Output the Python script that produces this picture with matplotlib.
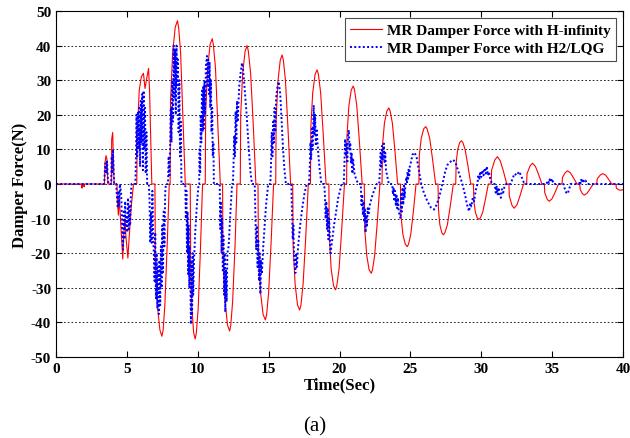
import matplotlib
matplotlib.use("Agg")
import matplotlib.pyplot as plt

plt.rcParams['font.family'] = ['Liberation Serif', 'DejaVu Serif']
plt.rcParams['axes.unicode_minus'] = False

# MR damper force with H-infinity control (time s, force N)
red_pts = [
    (0, 0), (1.8, 0), (1.83, -1.2), (1.86, 0), (1.95, 0), (1.98, -0.8), (2.01, 0),
    (3.42, 0), (3.45, 6), (3.53, 8.2), (3.6, 7), (3.66, 0), (3.9, 0), (3.93, 13),
    (4.0, 14.9), (4.05, 7), (4.1, 0), (4.3, 0), (4.33, -5), (4.4, -9), (4.45, -4),
    (4.52, -8), (4.6, -14), (4.71, -21.7), (4.78, -15), (4.86, -10), (4.93, -15),
    (5.07, -21.4), (5.17, -15), (5.32, -6), (5.47, 0), (5.7, 0), (5.73, 14),
    (5.87, 27), (6.02, 31), (6.17, 32), (6.28, 27.6), (6.42, 31), (6.53, 33.4),
    (6.6, 27), (6.68, 14), (6.76, 0),
    (6.98, 0), (7.01, -22), (7.15, -35), (7.33, -42.2), (7.47, -44), (7.56, -42.2), (7.68, -35), (7.84, -18), (7.99, 0),
    (8.05, 0), (8.08, 24), (8.23, 38), (8.41, 45.3), (8.57, 47.2), (8.65, 45.3), (8.79, 38), (8.95, 19.8), (9.12, 0),
    (9.47, 0), (9.5, -22), (9.59, -36), (9.71, -43), (9.82, -44.8), (9.9, -43), (10.03, -36), (10.19, -18.8), (10.34, 0),
    (10.53, 0), (10.56, 21), (10.7, 33.6), (10.87, 40.3), (11.02, 42), (11.1, 40.3), (11.25, 33.6), (11.41, 17.6), (11.59, 0),
    (11.75, 0), (11.78, -21), (11.93, -34), (12.1, -40.8), (12.25, -42.5), (12.33, -40.8), (12.46, -34), (12.63, -17.9), (12.77, 0),
    (13.0, 0), (13.03, 20), (13.17, 32), (13.34, 38.4), (13.48, 40), (13.57, 38.4), (13.73, 32), (13.92, 16.8), (14.1, 0),
    (14.25, 0), (14.28, -19.5), (14.43, -31.4), (14.61, -37.7), (14.77, -39.3), (14.86, -37.7), (15.0, -31.4), (15.18, -16.5), (15.35, 0),
    (15.5, 0), (15.53, 18.5), (15.66, 29.8), (15.82, 35.8), (15.95, 37.3), (16.04, 35.8), (16.19, 29.8), (16.37, 15.7), (16.55, 0),
    (16.7, 0), (16.73, -18), (16.87, -29), (17.04, -35), (17.19, -36.4), (17.28, -35), (17.43, -29), (17.62, -15.3), (17.8, 0),
    (17.95, 0), (17.98, 16.5), (18.11, 26.4), (18.28, 31.7), (18.42, 33), (18.51, 31.7), (18.67, 26.4), (18.86, 13.9), (19.05, 0),
    (19.25, 0), (19.28, -15), (19.41, -24.5), (19.58, -29.4), (19.72, -30.6), (19.81, -29.4), (19.97, -24.5), (20.16, -12.9), (20.35, 0),
    (20.5, 0), (20.53, 14), (20.66, 22.6), (20.83, 27.2), (20.97, 28.3), (21.06, 27.2), (21.22, 22.6), (21.41, 11.9), (21.6, 0),
    (21.75, 0), (21.78, -13), (21.92, -20.6), (22.09, -24.8), (22.24, -25.8), (22.33, -24.8), (22.48, -20.6), (22.67, -10.8), (22.85, 0),
    (23.0, 0), (23.03, 11), (23.17, 17.6), (23.34, 21.1), (23.48, 22), (23.57, 21.1), (23.73, 17.6), (23.92, 9.2), (24.1, 0),
    (24.3, 0), (24.33, -9), (24.47, -14.5), (24.64, -17.4), (24.78, -18.1), (24.87, -17.4), (25.03, -14.5), (25.22, -7.6), (25.4, 0),
    (25.6, 0), (25.63, 8.3), (25.77, 13.3), (25.94, 15.9), (26.08, 16.6), (26.18, 15.9), (26.36, 13.3), (26.57, 7), (26.78, 0),
    (26.95, 0), (26.98, -7.3), (27.08, -11.8), (27.22, -14.1), (27.33, -14.7), (27.43, -14.1), (27.61, -11.8), (27.82, -6.2), (28.03, 0),
    (28.2, 0), (28.23, 6.2), (28.34, 10), (28.48, 12), (28.6, 12.5), (28.7, 12), (28.86, 10), (29.06, 5.3), (29.26, 0),
    (29.45, 0), (29.48, -5.1), (29.59, -8.2), (29.72, -9.8), (29.84, -10.2), (29.94, -9.8), (30.1, -8.2), (30.3, -4.3), (30.5, 0),
    (30.7, 0), (30.73, 4), (30.96, 7), (31.14, 7.9), (31.34, 6.7), (31.57, 3.6), (31.8, 0),
    (31.95, 0), (31.98, -3.5), (32.17, -6.2), (32.32, -7), (32.52, -6), (32.75, -3.2), (32.98, 0),
    (33.2, 0), (33.23, 3), (33.45, 5.3), (33.62, 6), (33.82, 5.1), (34.05, 2.7), (34.28, 0),
    (34.45, 0), (34.48, -2.5), (34.65, -4.4), (34.79, -5), (34.99, -4.3), (35.22, -2.3), (35.45, 0),
    (35.7, 0), (35.73, 1.9), (35.93, 3.3), (36.09, 3.8), (36.29, 3.2), (36.52, 1.7), (36.75, 0),
    (36.95, 0), (36.98, -1.6), (37.14, -2.8), (37.27, -3.2), (37.46, -2.7), (37.68, -1.4), (37.9, 0),
    (38.15, 0), (38.18, 1.5), (38.4, 2.6), (38.57, 3), (38.76, 2.6), (38.98, 1.4), (39.2, 0),
    (39.5, 0), (39.53, -1.2), (39.7, -1.7), (39.86, -1.8), (40, -1.6),
]

# MR damper force with H2/LQG control (chattering signal)
blue_pts = [
    (0, 0), (3.4, 0), (3.45, 4), (3.5, 6), (3.55, 3), (3.6, 6.5), (3.65, 2), (3.7, 0),
    (3.9, 0), (3.93, 8), (3.97, 3), (4.02, 10), (4.06, 4), (4.1, 0), (4.25, 0),
    (4.3, -4), (4.36, -7), (4.41, -2), (4.46, -6), (4.51, 0), (4.6, -3), (4.66, -12),
    (4.73, -19), (4.78, -8), (4.83, -16), (4.88, -5), (4.93, -12), (4.98, -9),
    (5.03, -14), (5.08, -4), (5.13, -13), (5.18, -6), (5.23, -12), (5.28, -3), (5.33, 0),
    (5.6, 0), (5.63, 5), (5.68, 20), (5.73, 8), (5.78, 21), (5.83, 10), (5.88, 22),
    (5.93, 5), (5.98, 24), (6.03, 12), (6.08, 26), (6.13, 4), (6.18, 27), (6.23, 10),
    (6.28, 22), (6.33, 3), (6.38, 15), (6.43, 0), (6.55, 0), (6.6, -5), (6.65, -17),
    (6.7, -8), (6.75, -17), (6.8, -2), (6.85, -15), (6.9, -20), (6.95, -28), (7.0, -14),
    (7.05, -33), (7.1, -20), (7.15, -36), (7.2, -24), (7.25, -37.6), (7.3, -22),
    (7.35, -35), (7.4, -18), (7.45, -30), (7.5, -12), (7.55, -26), (7.6, -8),
    (7.65, -18), (7.7, -3), (7.75, 0), (7.9, 0), (7.95, 8), (8.0, 2), (8.05, 10),
    (8.1, 22), (8.15, 12), (8.2, 30), (8.25, 18), (8.3, 40), (8.35, 25), (8.4, 39),
    (8.45, 20), (8.5, 40), (8.55, 28), (8.6, 36), (8.65, 15), (8.7, 30), (8.75, 8),
    (8.8, 18), (8.85, 0), (9.12, 0), (9.16, -10), (9.2, -2), (9.24, -20), (9.28, -8),
    (9.32, -26), (9.36, -12), (9.4, -30), (9.44, -18), (9.52, -40.5), (9.56, -22),
    (9.6, -38), (9.64, -20), (9.68, -32), (9.74, -22), (9.82, -14), (9.94, -6), (10.06, 0),
    (10.1, 0), (10.13, 10), (10.17, 3), (10.21, 20), (10.25, 12), (10.3, 27), (10.34, 15),
    (10.38, 28), (10.42, 16), (10.47, 30), (10.52, 20), (10.57, 34), (10.65, 37),
    (10.69, 28), (10.74, 36), (10.79, 26), (10.84, 35), (10.88, 22), (10.93, 30),
    (10.97, 15), (11.02, 22), (11.06, 8), (11.1, 12), (11.14, 0), (11.55, 0),
    (11.59, -13), (11.63, -5), (11.68, -20), (11.72, -10), (11.77, -25), (11.81, -15),
    (11.86, -32), (11.9, -20), (11.94, -37), (11.99, -25), (12.04, -34), (12.09, -20),
    (12.18, -18), (12.28, -10), (12.42, 0), (12.48, 0), (12.52, 5), (12.57, 14),
    (12.62, 8), (12.67, 21), (12.72, 12), (12.77, 24), (12.82, 18), (12.92, 28),
    (13.02, 32), (13.12, 35), (13.2, 33), (13.3, 28), (13.45, 20), (13.6, 10),
    (13.73, 3), (13.83, 0), (14.02, 0), (14.07, -10), (14.12, -19), (14.17, -12),
    (14.22, -24), (14.27, -16), (14.32, -28), (14.37, -20), (14.42, -31.8), (14.47, -22),
    (14.52, -26), (14.62, -18), (14.72, -12), (14.82, -6), (14.97, 0), (15.12, 0),
    (15.17, 6), (15.22, 15), (15.27, 8), (15.32, 18), (15.37, 12), (15.42, 22),
    (15.47, 15), (15.53, 25), (15.62, 28), (15.71, 29.6), (15.82, 26), (15.92, 18),
    (16.02, 10), (16.12, 4), (16.22, 0), (16.6, 0), (16.65, -8), (16.7, -16),
    (16.75, -12), (16.8, -22), (16.89, -25.7), (16.94, -20), (16.99, -24), (17.08, -18),
    (17.22, -12), (17.37, -7), (17.52, -3), (17.68, 0), (17.85, 0), (17.9, 5),
    (17.95, 12), (18.0, 7), (18.05, 16), (18.1, 10), (18.18, 22.8), (18.23, 14),
    (18.28, 20), (18.33, 11), (18.38, 16), (18.48, 10), (18.58, 5), (18.72, 0),
    (18.92, 0), (18.97, -3), (19.02, -10), (19.07, -5), (19.12, -13), (19.17, -7),
    (19.22, -16), (19.27, -10), (19.36, -20), (19.46, -17), (19.61, -12), (19.76, -8),
    (19.91, -4), (20.15, 0), (20.3, 0), (20.35, 6), (20.4, 13), (20.45, 8), (20.5, 12),
    (20.55, 6), (20.6, 14), (20.66, 15.6), (20.71, 10), (20.76, 12), (20.81, 6),
    (20.86, 9), (20.91, 3), (20.96, 7), (21.06, 3), (21.2, 1), (21.35, 0), (21.5, 0),
    (21.55, -6), (21.6, -3), (21.65, -9), (21.7, -5), (21.75, -11), (21.79, -7),
    (21.84, -14), (21.89, -9), (21.94, -12), (21.99, -7), (22.04, -9), (22.14, -6),
    (22.34, -3), (22.62, 0), (22.8, 0), (22.85, 4), (22.9, 9), (22.95, 5), (23.0, 11),
    (23.06, 7), (23.13, 11.7), (23.18, 6), (23.23, 9), (23.28, 4), (23.38, 2), (23.48, 0),
    (23.72, 0), (23.77, -3), (23.82, -1), (23.87, -5), (23.92, -2), (23.97, -6),
    (24.02, -3), (24.07, -7), (24.12, -4), (24.18, -8), (24.31, -10), (24.35, -3),
    (24.4, -8), (24.45, -1), (24.5, -6), (24.55, 0), (24.6, -4), (24.65, 0), (24.72, 2),
    (24.76, 0.5), (24.8, 3.5), (24.84, 1.5), (24.88, 4.5), (24.92, 2.5), (24.96, 5),
    (25.05, 6.5), (25.15, 8.5), (25.3, 9.1), (25.45, 7.5), (25.6, 4), (25.77, 0),
    (25.95, -2.5), (26.2, -5), (26.45, -6.8), (26.67, -7.4), (26.85, -6), (27.05, -3.5),
    (27.26, 0), (27.45, 3.5), (27.61, 5.5), (27.85, 6.5), (28.03, 7), (28.2, 6),
    (28.4, 3.5), (28.67, 0), (28.85, -3), (29.0, -6), (29.14, -7.9), (29.22, -5.5),
    (29.3, -6.5), (29.4, -4), (29.5, -5), (29.6, -2), (29.73, 0), (29.8, 2.7),
    (29.86, 1.2), (29.93, 3.6), (30.0, 2), (30.08, 4), (30.16, 2.5), (30.24, 4.6),
    (30.32, 3), (30.39, 5.1), (30.47, 2.5), (30.55, 3.5), (30.65, 1), (30.79, 0),
    (30.95, 0), (31.02, -2.5), (31.08, -0.5), (31.15, -3), (31.22, -1), (31.3, -3.5),
    (31.38, -4), (31.46, -1.5), (31.55, -2.5), (31.65, -0.5), (31.75, 0), (32.08, 0),
    (32.2, 1.5), (32.35, 3), (32.5, 2.5), (32.67, 3.6), (32.8, 2.5), (32.95, 1),
    (33.05, 0), (34.6, 0), (34.7, 1), (34.78, 0.3), (34.85, 1.8), (34.92, 0.5),
    (35.0, 1.5), (35.1, 0), (35.8, 0), (35.9, -1.5), (36.0, -2.5), (36.1, -2.8),
    (36.2, -1.5), (36.3, 0), (36.9, 0), (36.95, 0.8), (37.0, 0.2), (37.05, 1.2),
    (37.12, 0.4), (37.18, 1.5), (37.25, 0.5), (37.35, 1), (37.5, 0), (40, 0),
]

labels = ["MR Damper Force with H-infinity", "MR Damper Force with H2/LQG"]
xticks = [0, 5, 10, 15, 20, 25, 30, 35, 40]
yticks = [-50, -40, -30, -20, -10, 0, 10, 20, 30, 40, 50]

red_t, red_f = zip(*red_pts)
blue_t, blue_f = zip(*blue_pts)

fig = plt.figure(figsize=(6.3, 4.39), dpi=100)
ax = fig.add_axes([56/630, 1-358/439, 567/630, 346/439])

ax.plot(red_t, red_f, color=(1, 0, 0), lw=0.8, label=labels[0])
ax.plot(blue_t, blue_f, color=(0, 0, 1), lw=1.4, ls=(0, (1, 1.2)), label=labels[1])

ax.set_xlim(0, 40)
ax.set_ylim(-50, 50)
ax.set_xticks(xticks)
ax.set_yticks(yticks)
ax.yaxis.grid(True, color='k', ls=(0, (2, 2.5)), lw=0.6)
ax.tick_params(direction='in', top=True, right=True, length=4, labelsize=11)
for lab in ax.get_xticklabels() + ax.get_yticklabels():
    lab.set_fontweight('bold')
for sp in ax.spines.values():
    sp.set_linewidth(0.8)

ax.set_xlabel('Time(Sec)', fontsize=12, fontweight='bold', labelpad=1)
ax.set_ylabel('Damper Force(N)', fontsize=12, fontweight='bold', labelpad=2)

leg = ax.legend(loc='upper right', prop={'weight': 'bold', 'size': 11},
                fancybox=False, framealpha=1, edgecolor='0.3', borderaxespad=0.45,
                handlelength=2.1, handletextpad=0.3, labelspacing=0.3, borderpad=0.35)
leg.get_frame().set_linewidth(0.8)

fig.text(0.5, 1-427/439, '(a)', ha='center', va='center', fontsize=15)

plt.savefig('out.png', dpi=100)
